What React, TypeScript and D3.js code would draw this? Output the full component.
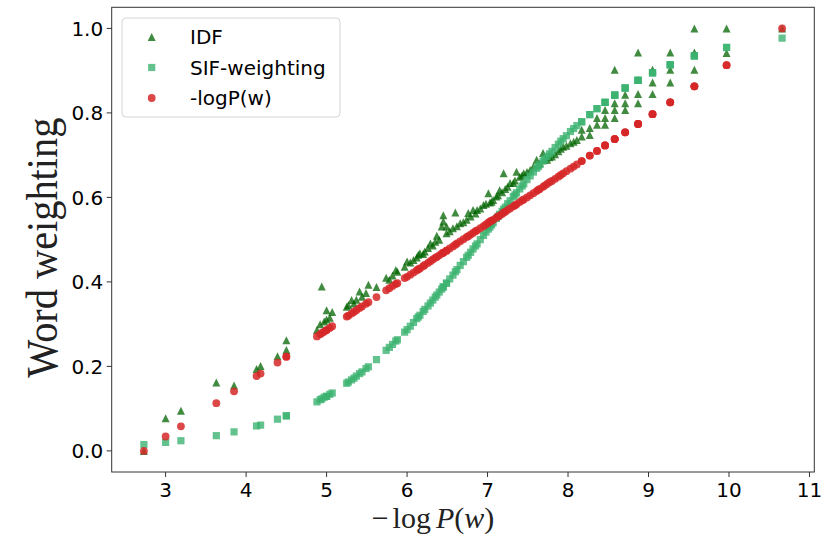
import React from "react";
import * as d3 from "d3";

// one entry per word: -log P(w) on x, the three weightings on y
const negLogP = [
  2.73, 3.0, 3.19, 3.63, 3.85, 4.13, 4.18, 4.39, 4.5, 4.5,
  4.88, 4.92, 4.94, 4.97, 5.0, 5.0, 5.04, 5.07,
  5.25, 5.27, 5.31, 5.34, 5.37, 5.41, 5.44, 5.49, 5.52, 5.62,
  5.74, 5.78, 5.82, 5.86, 5.88,
  5.97, 6.0, 6.04, 6.08, 6.12, 6.14, 6.16, 6.2, 6.22, 6.26,
  6.29, 6.32, 6.35, 6.37, 6.4, 6.43, 6.45, 6.45, 6.49, 6.49,
  6.53, 6.57, 6.6, 6.62, 6.66, 6.7, 6.74, 6.76, 6.79, 6.82,
  6.85, 6.87, 6.91, 6.95, 6.98, 7.01, 7.03, 7.05, 7.07, 7.11,
  7.13, 7.15, 7.18, 7.2, 7.22, 7.25, 7.28, 7.32, 7.34, 7.36,
  7.4, 7.43, 7.45, 7.49, 7.53, 7.57, 7.61, 7.63, 7.65, 7.69,
  7.71, 7.74, 7.77, 7.8, 7.84, 7.88, 7.91, 7.94, 7.98, 8.03,
  8.07, 8.11, 8.17, 8.17, 8.27, 8.27, 8.36, 8.36,
  8.46, 8.46, 8.46, 8.58, 8.58, 8.58, 8.58, 8.71, 8.71, 8.71,
  8.87, 8.87, 8.87, 8.87, 9.05, 9.05, 9.05, 9.27, 9.27, 9.27,
  9.57, 9.57, 9.57, 9.97, 9.97, 10.66,
];

const idf = [
  0.0, 0.077, 0.095, 0.162, 0.155, 0.194, 0.201, 0.224, 0.262, 0.239,
  0.286, 0.3, 0.389, 0.306, 0.333, 0.311, 0.315, 0.329,
  0.341, 0.345, 0.357, 0.349, 0.358, 0.377, 0.365, 0.374, 0.393, 0.388,
  0.41, 0.405, 0.415, 0.428, 0.424,
  0.436, 0.448, 0.446, 0.452, 0.458, 0.464, 0.468, 0.466, 0.472, 0.48,
  0.491, 0.486, 0.495, 0.509, 0.5, 0.531, 0.558, 0.543, 0.515, 0.531,
  0.52, 0.527, 0.564, 0.532, 0.539, 0.541, 0.547, 0.563, 0.555, 0.57,
  0.562, 0.57, 0.574, 0.582, 0.585, 0.61, 0.588, 0.59, 0.594, 0.602,
  0.605, 0.617, 0.612, 0.657, 0.62, 0.625, 0.634, 0.634, 0.64, 0.661,
  0.649, 0.652, 0.657, 0.66, 0.665, 0.673, 0.689, 0.678, 0.681, 0.705,
  0.69, 0.689, 0.695, 0.697, 0.702, 0.709, 0.715, 0.72, 0.722, 0.728,
  0.732, 0.736, 0.76, 0.744, 0.764, 0.748, 0.788, 0.772,
  0.807, 0.788, 0.772, 0.902, 0.823, 0.807, 0.788, 0.843, 0.823, 0.807,
  0.943, 0.878, 0.845, 0.823, 0.902, 0.872, 0.845, 0.943, 0.902, 0.872,
  1.0, 0.943, 0.902, 1.0, 0.942, 1.0,
];

const sif = [
  0.015, 0.02, 0.024, 0.036, 0.045, 0.059, 0.061, 0.075, 0.083, 0.083,
  0.116, 0.121, 0.123, 0.127, 0.129, 0.129, 0.134, 0.137,
  0.16, 0.163, 0.168, 0.172, 0.177, 0.183, 0.187, 0.195, 0.199, 0.216,
  0.238, 0.245, 0.252, 0.26, 0.263,
  0.281, 0.287, 0.295, 0.304, 0.313, 0.317, 0.321, 0.33, 0.335, 0.343,
  0.35, 0.357, 0.364, 0.369, 0.376, 0.383, 0.388, 0.388, 0.397, 0.397,
  0.407, 0.416, 0.424, 0.429, 0.439, 0.448, 0.458, 0.463, 0.47, 0.478,
  0.485, 0.49, 0.5, 0.51, 0.518, 0.525, 0.53, 0.535, 0.54, 0.55,
  0.555, 0.56, 0.567, 0.572, 0.577, 0.585, 0.592, 0.602, 0.606, 0.611,
  0.62, 0.627, 0.632, 0.642, 0.651, 0.66, 0.669, 0.673, 0.678, 0.686,
  0.69, 0.697, 0.703, 0.709, 0.718, 0.726, 0.733, 0.739, 0.746, 0.756,
  0.763, 0.77, 0.779, 0.779, 0.796, 0.796, 0.81, 0.81,
  0.825, 0.825, 0.825, 0.842, 0.842, 0.842, 0.842, 0.859, 0.859, 0.859,
  0.877, 0.877, 0.877, 0.877, 0.895, 0.895, 0.895, 0.914, 0.914, 0.914,
  0.935, 0.935, 0.935, 0.955, 0.955, 0.977,
];

const logPWeight = [
  0.0, 0.034, 0.058, 0.113, 0.141, 0.177, 0.183, 0.209, 0.223, 0.223,
  0.271, 0.276, 0.279, 0.282, 0.286, 0.286, 0.291, 0.295,
  0.318, 0.32, 0.325, 0.329, 0.333, 0.338, 0.342, 0.348, 0.352, 0.364,
  0.38, 0.385, 0.39, 0.395, 0.397,
  0.409, 0.412, 0.417, 0.422, 0.427, 0.43, 0.432, 0.437, 0.44, 0.445,
  0.449, 0.453, 0.457, 0.459, 0.463, 0.467, 0.469, 0.469, 0.474, 0.474,
  0.479, 0.484, 0.488, 0.491, 0.496, 0.501, 0.506, 0.508, 0.512, 0.516,
  0.52, 0.522, 0.527, 0.532, 0.536, 0.54, 0.543, 0.545, 0.547, 0.552,
  0.555, 0.557, 0.561, 0.564, 0.566, 0.57, 0.574, 0.579, 0.581, 0.584,
  0.589, 0.593, 0.595, 0.6, 0.605, 0.61, 0.615, 0.618, 0.62, 0.625,
  0.628, 0.632, 0.636, 0.639, 0.644, 0.649, 0.653, 0.657, 0.662, 0.668,
  0.673, 0.678, 0.686, 0.686, 0.699, 0.699, 0.71, 0.71,
  0.723, 0.723, 0.723, 0.738, 0.738, 0.738, 0.738, 0.754, 0.754, 0.754,
  0.774, 0.774, 0.774, 0.774, 0.797, 0.797, 0.797, 0.825, 0.825, 0.825,
  0.863, 0.863, 0.863, 0.913, 0.913, 1.0,
];

const seriesNames = ["IDF", "SIF-weighting", "-logP(w)"];
const seriesColors = ["#006400", "#3cb371", "#d62728"];
const xTicks = [3, 4, 5, 6, 7, 8, 9, 10, 11];
const yTicks = [0, 0.2, 0.4, 0.6, 0.8, 1.0];

const W = 830;
const H = 548;
const plot = { left: 111.7, right: 814.3, top: 7.3, bottom: 472 };
const sans = "DejaVu Sans, sans-serif";
const serif = "Liberation Serif, Times New Roman, serif";

// marker shapes, centred on 0,0
const triangle = (r: number) => `M0,${-r}L${r},${r}L${-r},${r}Z`;

function Marker({ kind, cx, cy }: { kind: number; cx: number; cy: number }) {
  const color = seriesColors[kind];
  if (kind === 0)
    return (
      <path d={triangle(4)} transform={`translate(${cx},${cy})`} fill={color} fillOpacity={0.75} />
    );
  if (kind === 1)
    return <rect x={cx - 3.6} y={cy - 3.6} width={7.2} height={7.2} fill={color} fillOpacity={0.8} />;
  return <circle cx={cx} cy={cy} r={3.9} fill={color} fillOpacity={0.85} />;
}

export default function App() {
  const x = d3.scaleLinear().domain([2.33, 11.06]).range([plot.left, plot.right]);
  const y = d3.scaleLinear().domain([-0.05, 1.05]).range([plot.bottom, plot.top]);
  const series = [idf, sif, logPWeight];
  const yMid = (plot.top + plot.bottom) / 2;

  return (
    <div style={{ position: "absolute", left: 0, top: 0 }}>
      <svg width={W} height={H} style={{ display: "block", background: "#fff" }}>
        {/* points: IDF first, -logP(w) on top */}
        {series.map((vals, k) => (
          <g key={k}>
            {vals.map((v, i) => (
              <Marker key={i} kind={k} cx={x(negLogP[i])} cy={y(v)} />
            ))}
          </g>
        ))}

        {/* frame */}
        <rect
          x={plot.left}
          y={plot.top}
          width={plot.right - plot.left}
          height={plot.bottom - plot.top}
          fill="none"
          stroke="#333"
          strokeWidth={1}
        />

        {/* x axis */}
        {xTicks.map((t) => (
          <g key={t} transform={`translate(${x(t)},${plot.bottom})`}>
            <line y2={5} stroke="#333" />
            <text y={24.5} textAnchor="middle" fontFamily={sans} fontSize={20} fill="#000">
              {t}
            </text>
          </g>
        ))}

        {/* y axis */}
        {yTicks.map((t) => (
          <g key={t} transform={`translate(${plot.left},${y(t)})`}>
            <line x2={-5} stroke="#333" />
            <text x={-8.5} dy="0.36em" textAnchor="end" fontFamily={sans} fontSize={20} fill="#000">
              {d3.format(".1f")(t)}
            </text>
          </g>
        ))}

        {/* axis titles */}
        <text
          transform={`translate(57,${yMid + 8}) rotate(-90)`}
          textAnchor="middle"
          fontFamily={serif}
          fontSize={44}
          textLength={260}
          lengthAdjust="spacingAndGlyphs"
          fill="#222"
        >
          Word weighting
        </text>
        <text x={433} y={528} textAnchor="middle" fontFamily={serif} fontSize={30} fill="#222">
          <tspan>−</tspan>
          <tspan dx={4}>log</tspan>
          <tspan dx={5} fontStyle="italic">P</tspan>
          <tspan>(</tspan>
          <tspan fontStyle="italic">w</tspan>
          <tspan>)</tspan>
        </text>

        {/* legend */}
        <g>
          <rect x={122} y={18} width={218} height={99} rx={4} fill="#fff" fillOpacity={0.8} stroke="#d5d5d5" />
          {seriesNames.map((name, k) => {
            const ry = 37 + k * 30.5;
            return (
              <g key={name}>
                <Marker kind={k} cx={151.7} cy={ry} />
                <text x={190} y={ry} dy="0.36em" fontFamily={sans} fontSize={20} fill="#000">
                  {name}
                </text>
              </g>
            );
          })}
        </g>
      </svg>
    </div>
  );
}
